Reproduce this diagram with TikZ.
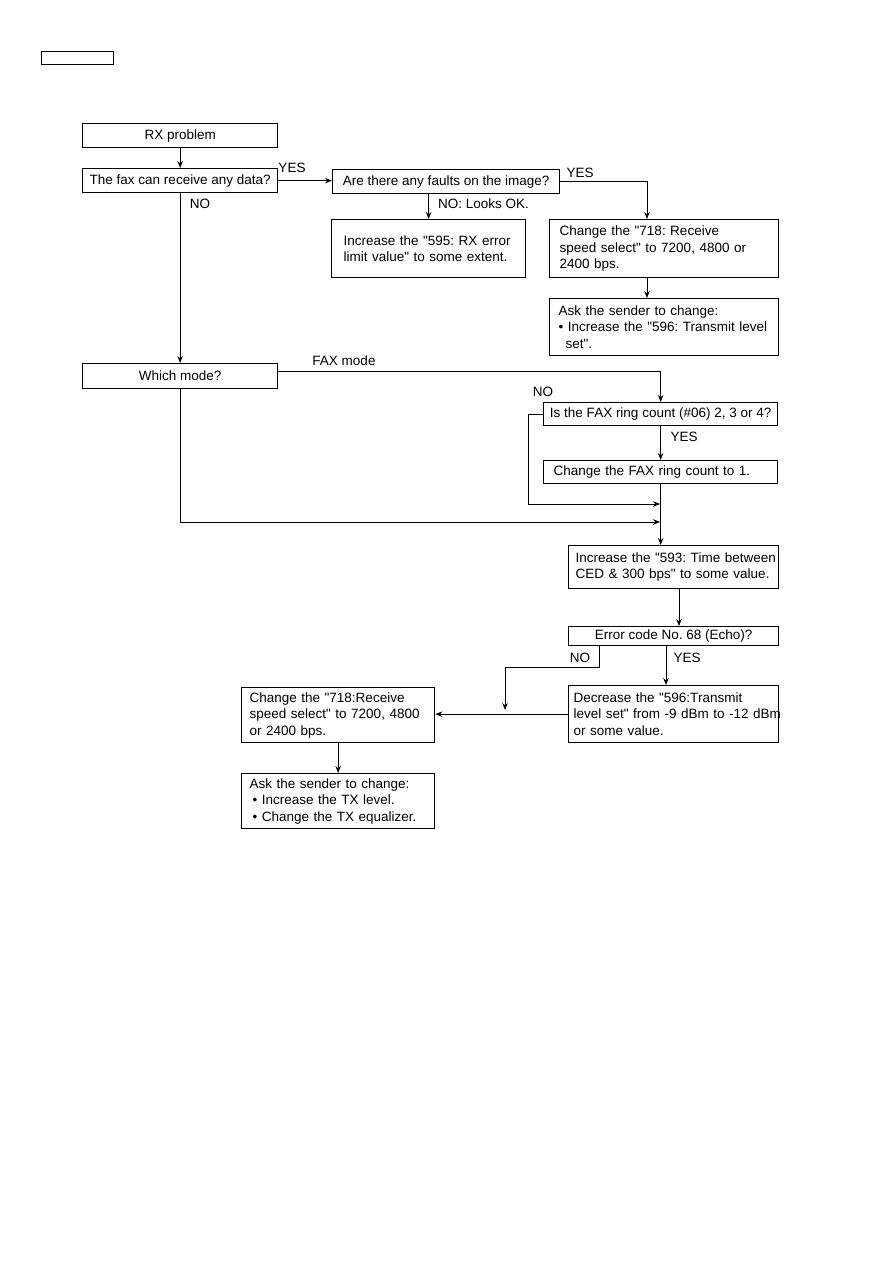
\documentclass[tikz,border=0pt]{standalone}
\usepackage{fontspec}
\setmainfont{Liberation Sans}[Ligatures=TeXOff]
\usetikzlibrary{arrows.meta}
\frenchspacing
\begin{document}
\begin{tikzpicture}[x=1pt,y=-1pt,
  box/.style={draw,line width=1.3pt,inner ysep=0pt,font=\fontsize{13.5}{16.5}\selectfont,anchor=north west},
  lbl/.style={font=\fontsize{13.5}{16.5}\selectfont,inner sep=0pt},
  arr/.style={line width=1pt,-{Stealth[length=7pt,width=5.5pt]}}]
\useasboundingbox (0,0) rectangle (893,1263);
% boxes
\node[box,minimum width=72pt,minimum height=13pt,line width=1.2pt] (hdr) at (41,51) {};
\node[box,minimum width=195pt,minimum height=24pt] (rx) at (82,123) {RX problem};
\node[box,minimum width=195pt,minimum height=24pt] (fax) at (82,168) {The fax can receive any data?};
\node[box,minimum width=227pt,minimum height=24pt] (faults) at (332,169) {Are there any faults on the image?};
\node[box,minimum height=58pt,text width=170pt,inner xsep=12pt,align=left] (inc595) at (331,219)
  {\mbox{Increase the "595: RX error}\\\mbox{limit value" to some extent.}};
\node[box,minimum height=58pt,text width=209pt,inner xsep=10pt,align=left] (chg718) at (549,219)
  {\mbox{Change the "718: Receive}\\\mbox{speed select" to 7200, 4800 or}\\\mbox{2400 bps.}};
\node[box,minimum height=57pt,text width=211pt,inner xsep=9pt,align=left] (ask1) at (549,298)
  {\mbox{Ask the sender to change:}\\\mbox{\textbullet\ Increase the "596: Transmit level}\\\mbox{\hspace*{7pt}set".}};
\node[box,minimum width=195pt,minimum height=25pt] (mode) at (82,363) {Which mode?};
\node[box,minimum width=234pt,minimum height=23pt] (ring) at (543,402) {Is the FAX ring count (\#06) 2, 3 or 4?};
\node[box,minimum height=23pt,text width=214pt,inner xsep=10pt,align=left] (chring) at (543,460)
  {\mbox{Change the FAX ring count to 1.}};
\node[box,minimum height=43pt,text width=196pt,inner xsep=7pt,align=left] (inc593) at (568,545)
  {\mbox{Increase the "593: Time between}\\\mbox{CED \& 300 bps" to some value.}};
\node[box,minimum width=210pt,minimum height=19pt] (err) at (568,626) {Error code No. 68 (Echo)?};
\node[box,minimum height=57pt,text width=200pt,inner xsep=5pt,align=left] (dec) at (568,685)
  {\mbox{Decrease the "596:Transmit}\\\mbox{level set" from -9 dBm to -12 dBm}\\\mbox{or some value.}};
\node[box,minimum height=55pt,text width=177pt,inner xsep=8pt,align=left] (chg718b) at (241,687)
  {\mbox{Change the "718:Receive}\\\mbox{speed select" to 7200, 4800}\\\mbox{or 2400 bps.}};
\node[box,minimum height=55pt,text width=177pt,inner xsep=8pt,align=left] (ask2) at (241,773)
  {\mbox{Ask the sender to change:}\\\mbox{\hspace*{3pt}\textbullet\ Increase the TX level.}\\\mbox{\hspace*{3pt}\textbullet\ Change the TX equalizer.}};
% labels
\node[lbl] (yes1) at (292,168) {YES};
\node[lbl] (no1) at (200,204) {NO};
\node[lbl] (yes2) at (580,173) {YES};
\node[lbl,anchor=west] (nolk) at (438,204) {NO: Looks OK.};
\node[lbl] (faxm) at (344,361) {FAX mode};
\node[lbl] (no2) at (543,392) {NO};
\node[lbl] (yes3) at (684,437) {YES};
\node[lbl] (no3) at (580,658) {NO};
\node[lbl] (yes4) at (687,658) {YES};
% junctions
\coordinate (j1) at (660,504);
\coordinate (j2) at (660,522);
\coordinate (j3) at (505,710);
% connectors
\draw[arr] (rx.south) -- (fax.north);
\draw[arr] (fax.east) -- (fax.east -| faults.west);
\draw[arr] (faults.east) -| ([xshift=98pt]chg718.north west);
\draw[arr] (faults.south -| inc595.north) -- (inc595.north);
\draw[arr] ([xshift=98pt]chg718.south west) -- ([xshift=98pt]ask1.north west);
\draw[arr] (fax.south) -- (mode.north);
\draw[arr] ([yshift=4.5pt]mode.east) -| (ring.north);
\draw[arr] (ring.west) -- ++(-15,0) |- (j1);
\draw[arr] (ring.south) -- (chring.north);
\draw[arr] (chring.south) -- (chring.south |- inc593.north);
\draw[arr] (mode.south) |- (j2);
\draw[arr] ([xshift=111pt]inc593.south west) -- ([xshift=111pt]err.north west);
\draw[arr] ([xshift=31pt]err.south west) -- ++(0,21) -| (j3);
\draw[arr] ([xshift=98pt]err.south west) -- ([xshift=98pt]dec.north west);
\draw[arr] (dec.west) -- (dec.west -| chg718b.east);
\draw[arr] (chg718b.south) -- (ask2.north);
\end{tikzpicture}
\end{document}
